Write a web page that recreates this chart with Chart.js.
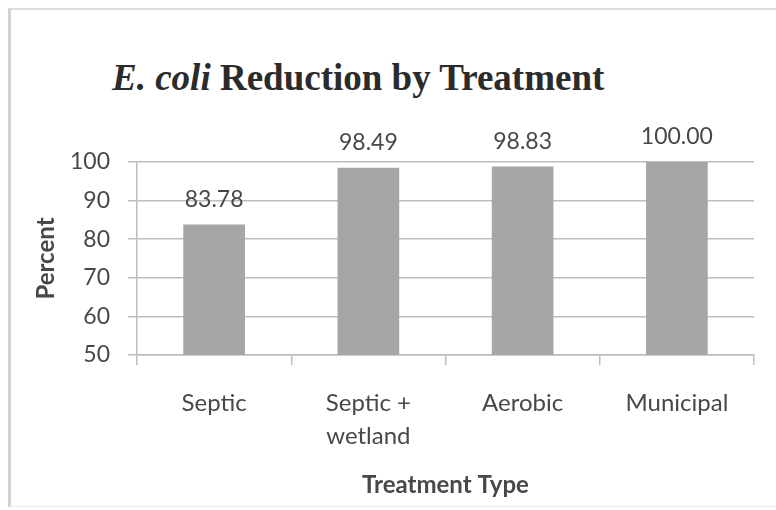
<!DOCTYPE html>
<html>
<head>
<meta charset="utf-8">
<script src="https://cdn.jsdelivr.net/npm/chart.js@4"></script>
<style>
  html, body { margin: 0; padding: 0; background: #fff; }
  #wrap { position: relative; width: 776px; height: 510px; overflow: hidden; background: #fff; }
  #frame { position: absolute; left: 8px; top: 8px; width: 800px; height: 499px;
           border-left: 3px solid #d2d2d2; border-top: 2px solid #dcdcdc; border-bottom: 1px solid #ececec; box-sizing: border-box; }
  #title { position: absolute; left: 112px; top: 59px; margin: 0; white-space: nowrap;
           font-family: "Liberation Serif", "Times New Roman", serif; font-weight: bold; font-size: 37px; line-height: 37px;
           color: #2b2b2b; }
  #title i { font-style: italic; }
  canvas { position: absolute; left: 0; top: 0; }
</style>
</head>
<body>
<div id="wrap">
  <div id="frame"></div>
  <div id="title"><i>E. coli</i> Reduction by Treatment</div>
  <canvas id="c" width="776" height="510"></canvas>
</div>
<script>
const categories = [["Septic"], ["Septic +", "wetland"], ["Aerobic"], ["Municipal"]];
const percentValues = [83.78, 98.49, 98.83, 100.00];
const yTickValues = [50, 60, 70, 80, 90, 100];
const xAxisTitle = "Treatment Type";
const yAxisTitle = "Percent";

const textColor = "#484848";
const gridColor = "#bdbdbd";

const valueLabels = {
  id: "valueLabels",
  afterDatasetsDraw(chart) {
    const ctx = chart.ctx;
    const meta = chart.getDatasetMeta(0);
    ctx.save();
    ctx.font = "23px Lato";
    ctx.fillStyle = textColor;
    ctx.textAlign = "center";
    ctx.textBaseline = "middle";
    meta.data.forEach((bar, i) => {
      ctx.fillText(percentValues[i].toFixed(2), bar.x, bar.y - 25);
    });
    ctx.restore();
  }
};

new Chart(document.getElementById("c"), {
  type: "bar",
  data: {
    labels: categories,
    datasets: [{
      data: percentValues,
      backgroundColor: "#a6a6a6",
      borderWidth: 0,
      barPercentage: 0.4,
      categoryPercentage: 1.0
    }]
  },
  options: {
    responsive: false,
    animation: false,
    devicePixelRatio: 1,
    layout: { padding: { top: 162, right: 22, left: 0, bottom: 0 } },
    plugins: { legend: { display: false }, tooltip: { enabled: false }, title: { display: false } },
    scales: {
      x: {
        afterFit(scale) { scale.height = 155; },
        grid: { display: true, drawOnChartArea: false, drawTicks: true, tickLength: 10, color: gridColor, lineWidth: 1.5, offset: true },
        border: { display: true, color: gridColor, width: 1.5 },
        ticks: { color: textColor, font: { family: "Lato", size: 24, lineHeight: 1.4 }, padding: 21, maxRotation: 0, autoSkip: false },
        title: { display: true, text: xAxisTitle, color: textColor, font: { family: "Lato", size: 24, weight: "bold" }, padding: { top: 0, bottom: 10 } }
      },
      y: {
        min: yTickValues[0],
        max: yTickValues[yTickValues.length - 1],
        afterFit(scale) { scale.width = 137; },
        afterBuildTicks(scale) { scale.ticks = yTickValues.map(v => ({ value: v })); },
        grid: { color: gridColor, lineWidth: 1.5, tickLength: 9, drawTicks: true },
        border: { display: true, color: gridColor, width: 1.5 },
        ticks: { color: textColor, font: { family: "Lato", size: 23 }, padding: 18 },
        title: { display: true, text: yAxisTitle, color: textColor, font: { family: "Lato", size: 24, weight: "bold" }, padding: { top: 32, bottom: 0 } }
      }
    }
  },
  plugins: [valueLabels]
});
</script>
</body>
</html>
